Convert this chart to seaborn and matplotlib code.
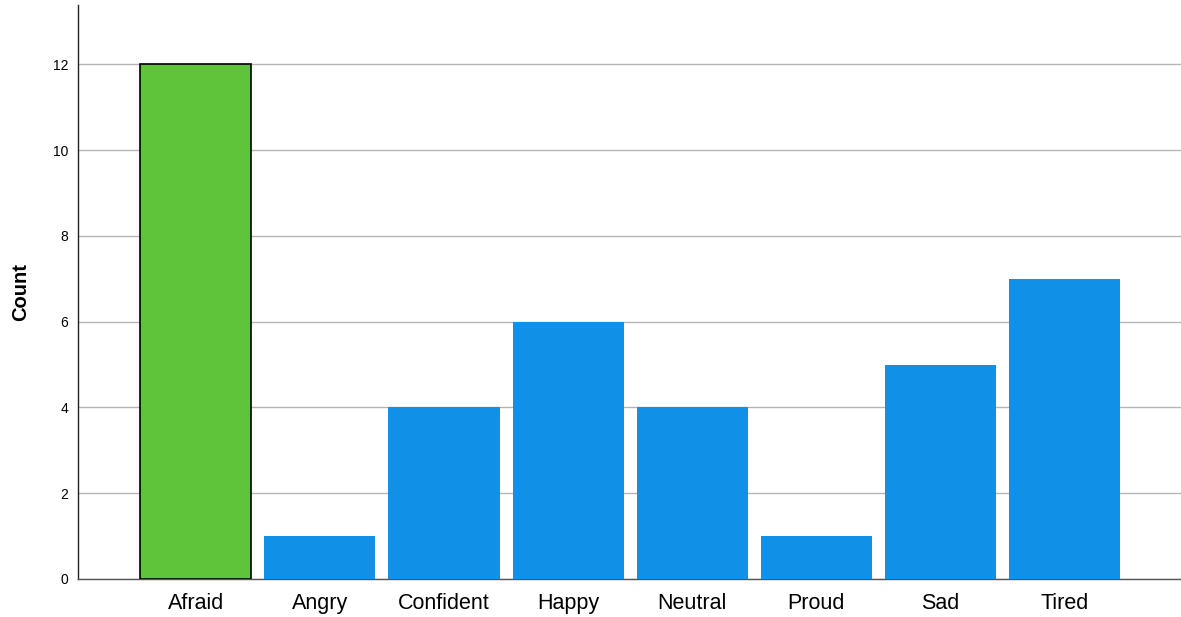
import matplotlib
matplotlib.use("Agg")
import matplotlib.pyplot as plt
import seaborn as sns
import pandas as pd

categories = ["Afraid", "Angry", "Confident", "Happy", "Neutral", "Proud", "Sad", "Tired"]
counts = [12, 1, 4, 6, 4, 1, 5, 7]
highlight = "Afraid"

sns.set_theme(style="white")
plt.rcParams['font.family'] = ['Liberation Sans', 'DejaVu Sans']

df = pd.DataFrame({"Emotion": categories, "Count": counts})
green = "#5FC43A"
blue = "#1190E8"
palette = {c: (green if c == highlight else blue) for c in categories}

fig = plt.figure(figsize=(11.81, 6.17), dpi=100)
ax = fig.add_axes([0.066, 0.0616, 0.934, 0.930])
sns.barplot(data=df, x="Emotion", y="Count", hue="Emotion", palette=palette,
            width=0.895, saturation=1, legend=False, ax=ax, zorder=3)

for patch, cat in zip(ax.patches, categories):
    if cat == highlight:
        patch.set_edgecolor("black")
        patch.set_linewidth(1.2)
    else:
        patch.set_linewidth(0)

ax.set_xlim(-0.95, 7.94)
ax.set_ylim(0, 13.38)
ax.set_yticks([0, 2, 4, 6, 8, 10, 12])
ax.yaxis.grid(True, color="#b4b4b4", linewidth=1.0, zorder=0)
ax.set_axisbelow(True)
for s in ["top", "right"]:
    ax.spines[s].set_visible(False)
ax.spines["left"].set_color("#222222")
ax.spines["bottom"].set_color("#555555")
ax.spines["left"].set_linewidth(1.0)
ax.spines["bottom"].set_linewidth(1.0)
ax.tick_params(axis="y", length=0, labelsize=10, pad=7, labelcolor="black")
ax.tick_params(axis="x", length=0, labelsize=15.5, pad=10, labelcolor="black")
ax.set_xlabel("")
ax.set_ylabel("Count", fontsize=14.5, fontweight="bold", labelpad=16, color="black")

fig.savefig("out.png", dpi=100)
